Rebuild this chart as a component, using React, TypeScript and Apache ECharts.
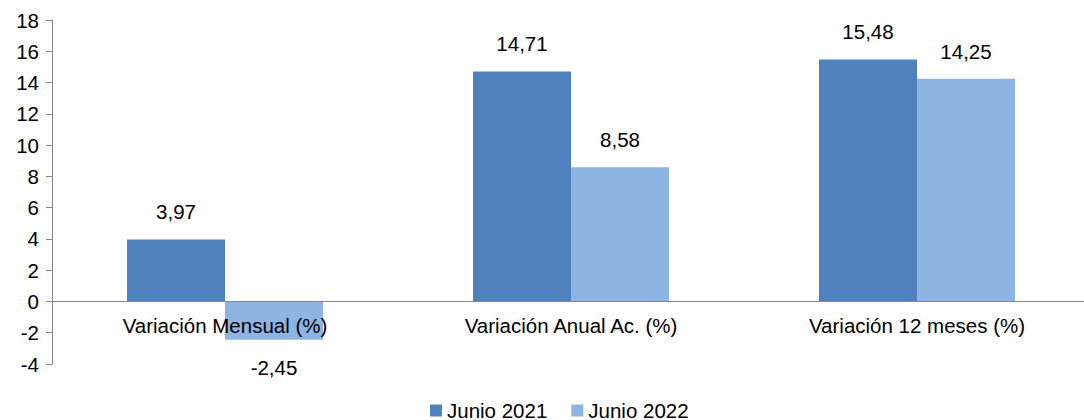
import React, { useEffect, useRef } from "react";
import * as echarts from "echarts";

const categories = ["Variación Mensual (%)", "Variación Anual Ac. (%)", "Variación 12 meses (%)"];
const seriesNames = ["Junio 2021", "Junio 2022"];
const junio2021 = [3.97, 14.71, 15.48];
const junio2022 = [-2.45, 8.58, 14.25];
const colors = ["#4F81BD", "#8EB4E3"];
const yMin = -4;
const yMax = 18;
const yStep = 2;

const FONT = "'Liberation Sans', Arial, sans-serif";
const FS = 20.5;

function toData(values: number[]) {
  return values.map((v) => ({
    value: v,
    label: { position: v < 0 ? "bottom" : "top" },
  }));
}

export default function App() {
  const ref = useRef<HTMLDivElement>(null);
  useEffect(() => {
    if (!ref.current) return;
    const chart = echarts.init(ref.current, null, { renderer: "svg" });
    const gridHeight = 344;
    const zeroOffset = -((0 - yMin) / (yMax - yMin)) * gridHeight;
    const labelCfg = {
      show: true,
      distance: 17,
      fontSize: FS,
      fontFamily: FONT,
      color: "#000",
      formatter: (p: any) => Number(p.value).toFixed(2).replace(".", ","),
    };
    chart.setOption({
      animation: false,
      grid: {
        left: 52,
        top: 20,
        width: 1038,
        height: gridHeight,
        containLabel: false,
        outerBoundsMode: "none",
      },
      legend: {
        left: 425,
        top: 395,
        icon: "rect",
        itemWidth: 12,
        itemHeight: 12,
        itemGap: 24,
        textStyle: { fontSize: FS, fontFamily: FONT, color: "#000" },
        data: seriesNames,
      },
      xAxis: {
        type: "category",
        data: categories,
        position: "bottom",
        offset: zeroOffset,
        axisLine: { onZero: false, lineStyle: { color: "#868686", width: 1 } },
        axisTick: { show: false },
        axisLabel: { margin: 14, fontSize: FS, fontFamily: FONT, color: "#000" },
        z: 10,
      },
      yAxis: {
        type: "value",
        min: yMin,
        max: yMax,
        interval: yStep,
        splitLine: { show: false },
        axisLine: { show: true, lineStyle: { color: "#868686", width: 1 } },
        axisTick: { show: true, length: 6, lineStyle: { color: "#868686" } },
        axisLabel: { margin: 13, fontSize: FS, fontFamily: FONT, color: "#000" },
      },
      series: [
        {
          name: seriesNames[0],
          type: "bar",
          data: toData(junio2021),
          itemStyle: { color: colors[0] },
          barWidth: 98,
          barGap: "0%",
          label: labelCfg,
        },
        {
          name: seriesNames[1],
          type: "bar",
          data: toData(junio2022),
          itemStyle: { color: colors[1] },
          barWidth: 98,
          barGap: "0%",
          label: labelCfg,
        },
      ],
    });
    return () => chart.dispose();
  }, []);
  return <div ref={ref} style={{ width: 1084, height: 420, position: "absolute", left: 0, top: 0 }} />;
}
